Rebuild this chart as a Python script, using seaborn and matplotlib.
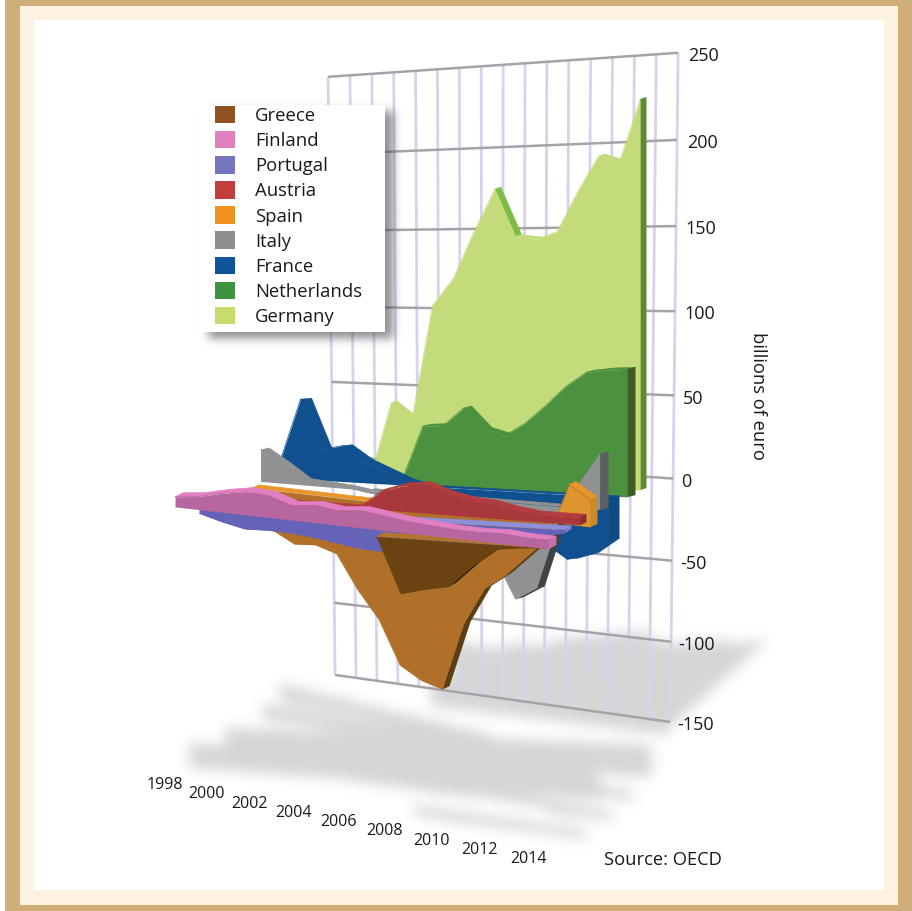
import numpy as np
import pandas as pd
import matplotlib
matplotlib.use("Agg")
import matplotlib.pyplot as plt
import seaborn as sns
from matplotlib.backends.backend_agg import FigureCanvasAgg
from matplotlib.figure import Figure
from matplotlib.patches import Patch, Polygon, Rectangle
from matplotlib.transforms import Affine2D

nan = np.nan
years = np.arange(1998, 2015)
year_labels = [1998, 2000, 2002, 2004, 2006, 2008, 2010, 2012, 2014]
wall_ticks = [250, 200, 150, 100, 50, 0, -50, -100, -150]

germany = [nan, nan, nan, 0, 44, 35, 102, 118, 146, 171, 144, 143, 148, 172, 193, 190, 227]
netherlands = [nan, nan, nan, nan, nan, 3, 35, 36, 47, 35, 32, 40, 51, 63, 72, 74, 75]
france = [10, 47, 18, 21, 13, 8, 3, 0, -5, -10, -20, -25, -25, -30, -38, -34, -25]
italy = [20, 12, 3, 2, 1, -1, -3, -5, -10, -25, -45, -35, -60, -52, -10, 15, 35]
spain = [-10, -25, -32, -31, -35, -56, -73, -100, -108, -112, -70, -46, -36, -23, -10, 25, 17]
austria = [-3, -3, -2, -3, -2, -1, 0, 12, 17, 19, 14, 11, 10, 7, 5, 5, 5]
portugal = [-3, -8, -12, -12, -13, -15, -18, -21, -22, -22, -20, -22, -18, -14, -10, -5, -2]
finland = [7, 9, 13, 16, 15, 10, 12, 10, 12, 10, 8, 7, 6, 6, 7, 6, 6]
greece = [nan, nan, nan, nan, nan, nan, nan, nan, nan, 0, -37, -33, -30, -15, -3, -1, 0]

series = {
    "Germany": germany, "Netherlands": netherlands, "France": france,
    "Italy": italy, "Spain": spain, "Austria": austria,
    "Portugal": portugal, "Greece": greece, "Finland": finland,
}
legend_order = ["Greece", "Finland", "Portugal", "Austria", "Spain", "Italy",
                "France", "Netherlands", "Germany"]

# Each ribbon sits on its own sheared plane: x0, y0 at 1998, x1, y1 at 2014,
# pixels per billion, and the extrusion of the ribbon towards the back.
planes = {
    "Germany":     (308, 475, 640, 490, 1.72, 6, -2),
    "Netherlands": (300, 479, 627, 497, 1.70, 8, -2),
    "France":      (280, 478, 608, 497, 1.70, 11, -1),
    "Italy":       (261, 482, 600, 510, 1.60, 8, -2),
    "Spain":       (252, 488, 590, 527, 1.60, 7, -3),
    "Austria":     (225, 498, 580, 525, 1.50, 6, -3),
    "Portugal":    (199, 509, 565, 530, 1.45, 6, -4),
    "Finland":     (175, 507, 548, 549, 1.45, 8, -4),
    "Greece":      (160, 522, 545, 548, 1.50, 7, -4),
}
# Surface colours of a ribbon
paints = {
    "Germany":     dict(face="#C3DB7A", below="#C3DB7A", top="#C3DB7A", slope="#7CBD45", side="#7CBD45", cap="#5E8A35"),
    "Netherlands": dict(face="#4C9140", below="#4C9140", top="#4C9140", slope="#4C9140", side="#3F5C24", cap="#3F5C24"),
    "France":      dict(face="#11508F", below="#11508F", top="#11508F", slope="#11508F", side="#11508F", cap="#0E4A84"),
    "Italy":       dict(face="#8F9192", below="#8F9192", top="#8F9192", slope="#8F9192", side="#3F4344", cap="#5A5E60"),
    "Spain":       dict(face="#E0942F", below="#B0702A", top="#E8962C", slope="#E8962C", side="#5A3D12", cap="#C98A2C"),
    "Austria":     dict(face="#A9383C", below="#A9383C", top="#B53C3E", slope="#B53C3E", side="#8E2A30", cap="#8E2A30"),
    "Portugal":    dict(face="#6563B8", below="#6563B8", top="#8D8FD8", slope="#8D8FD8", side="#5452A0", cap="#7F7FCC"),
    "Finland":     dict(face="#B8669F", below="#B8669F", top="#E27EC2", slope="#E27EC2", side="#C870AC", cap="#C870AC"),
    "Greece":      dict(face="#6B4310", below="#6B4310", top="#B3752D", slope="#B3752D", side="#1B140A", cap="#B3752D"),
}
swatches = {
    "Greece": "#8E5223", "Finland": "#E07FBE", "Portugal": "#7676C0",
    "Austria": "#C23E3C", "Spain": "#F2921E", "Italy": "#8C8E90",
    "France": "#0F5597", "Netherlands": "#3F933F", "Germany": "#C6DC6C",
}
# Floor strips under the ribbons: x0, y0, x1, y1, shear per billion, base width
floor_strips = {
    "Germany":     (450, 680, 672, 725, 0.42, -0.20, -40),
    "Netherlands": (430, 706, 668, 735, 0.10, -0.28, -30),
    "France":      (279, 684, 490, 735, 0.10, 0.10, 14),
    "Italy":       (262, 704, 530, 750, 0.10, 0.12, 14),
    "Spain":       (225, 728, 650, 745, 0.10, 0.30, 26),
    "Austria":     (189, 743, 600, 775, 0.10, 0.25, 24),
    "Portugal":    (475, 762, 632, 792, 0.00, 0.10, 9),
    "Greece":      (450, 782, 612, 812, 0.00, 0.10, 9),
    "Finland":     (413, 805, 586, 830, 0.00, 0.20, 8),
}

sns.set_theme(style="white")
plt.rcParams["font.family"] = ["Open Sans", "Noto Sans", "DejaVu Sans"]

W, H = 912, 911
FIGSIZE = ((W + 0.2) / 100, (H + 0.2) / 100)
fig = plt.figure(figsize=FIGSIZE, dpi=100, facecolor="white")
ax = fig.add_axes([0, 0, 1, 1])
ax.set_xlim(0, W)
ax.set_ylim(H, 0)
ax.set_autoscale_on(False)
ax.axis("off")


def plane_transform(name):
    x0, y0, x1, y1, k, _, _ = planes[name]
    span = years[-1] - years[0]
    sx, sy = (x1 - x0) / span, (y1 - y0) / span
    return Affine2D.from_values(sx, sy, 0, -k, x0 - sx * years[0], y0 - sy * years[0])


def soft_layer(painter, sigma, rgb, alpha, zorder):
    """Paint shapes off screen, blur their coverage and lay it over the axes."""
    off = Figure(figsize=FIGSIZE, dpi=100, facecolor="white")
    canvas = FigureCanvasAgg(off)
    oax = off.add_axes([0, 0, 1, 1])
    oax.set_xlim(0, W)
    oax.set_ylim(H, 0)
    oax.axis("off")
    painter(oax)
    canvas.draw()
    mask = 1 - np.asarray(canvas.buffer_rgba())[..., 0] / 255.0
    radius = int(3 * sigma)
    kernel = np.exp(-0.5 * (np.arange(-radius, radius + 1) / sigma) ** 2)
    kernel /= kernel.sum()
    mask = np.apply_along_axis(lambda r: np.convolve(r, kernel, "same"), 0, mask)
    mask = np.apply_along_axis(lambda r: np.convolve(r, kernel, "same"), 1, mask)
    rgba = np.zeros(mask.shape + (4,))
    rgba[..., :3] = rgb
    rgba[..., 3] = np.clip(mask, 0, 1) * alpha
    ax.imshow(rgba, extent=(0, W, H, 0), zorder=zorder, aspect="auto", interpolation="bilinear")
    ax.set_xlim(0, W)
    ax.set_ylim(H, 0)


def paint_floor(oax):
    for name, (x0, y0, x1, y1, shx, shy, base) in floor_strips.items():
        vals = np.abs(np.nan_to_num(np.array(series[name], float)))
        t = (years - years[0]) / (years[-1] - years[0])
        bx, by = x0 + (x1 - x0) * t, y0 + (y1 - y0) * t
        tx, ty = bx + shx * vals, by + shy * vals + base
        oax.fill(np.r_[bx, tx[::-1]], np.r_[by, ty[::-1]], color="black", lw=0)


soft_layer(paint_floor, 6.5, (0.55, 0.55, 0.55), 0.36, 1)


def wall_point(year, value):
    s = (250 - value) / 400
    t = (year - years[0]) / (years[-1] - years[0])
    left = (328 + 7 * s, 77 + 598 * s + 24 * s * (1 - s))
    right = (678 - 8 * s, 53 + 669 * s + 32 * s * (1 - s))
    return left[0] + (right[0] - left[0]) * t, left[1] + (right[1] - left[1]) * t


for yr in years:
    a, b = wall_point(yr, 250), wall_point(yr, -150)
    ax.plot([a[0], b[0]], [a[1], b[1]], color="#D6D4EA", lw=2.0, zorder=2, solid_capstyle="butt")
for tick in wall_ticks:
    a, b = wall_point(years[0], tick), wall_point(years[-1], tick)
    ax.plot([a[0], b[0]], [a[1], b[1]], color="#A8A2A8", lw=1.8, zorder=3, solid_capstyle="butt")
    ax.text(677 + (tick + 150) * 0.0275, b[1] + 3, str(tick), fontsize=13, color="#1A1A1A",
            ha="left", va="center", zorder=20)


def draw_ribbon(name, zorder):
    values = np.array(series[name], float)
    keep = np.isfinite(values)
    yrs, vals = years[keep], values[keep]
    paint = paints[name]
    ex, ey = planes[name][5:7]
    tr = plane_transform(name)
    pts = tr.transform(np.column_stack([yrs, vals]))
    base = tr.transform(np.column_stack([yrs, np.zeros_like(vals)]))

    def sweep(p, q, colour):
        quad = np.array([p, q, q + (ex, ey), p + (ex, ey)])
        ax.add_patch(Polygon(quad, closed=True, facecolor=colour, edgecolor=colour, lw=0.4, zorder=zorder))

    for i in range(len(yrs) - 1):
        # outline segment: keep the surfaces that turn towards the viewer
        d = pts[i + 1] - pts[i]
        above = vals[i] + vals[i + 1] >= 0
        n = (1 if above else -1) * np.array([d[1], -d[0]])
        if n @ (ex, ey) > 0:
            if -n[1] > 0.55 * np.hypot(*n):
                colour = paint["top"]
            else:
                colour = paint["slope"] if above else paint["side"]
            sweep(pts[i], pts[i + 1], colour)
        if not above:
            sweep(base[i], base[i + 1], paint["top"])
    sweep(pts[-1], base[-1], paint["cap"])

    data_tr = tr + ax.transData
    ax.fill_between(yrs, vals, 0, where=vals >= 0, interpolate=True, color=paint["face"], lw=0,
                    transform=data_tr, zorder=zorder + 0.1)
    ax.fill_between(yrs, vals, 0, where=vals <= 0, interpolate=True, color=paint["below"], lw=0,
                    transform=data_tr, zorder=zorder + 0.1)
    frame = pd.DataFrame({"year": yrs, "value": vals})
    sns.lineplot(data=frame, x="year", y="value", ax=ax,
                 color=paint["face"] if vals.sum() >= 0 else paint["below"],
                 lw=0.5, estimator=None, transform=data_tr, zorder=zorder + 0.2, legend=False)


for z, name in enumerate(series):
    draw_ribbon(name, 5 + z)
ax.set_xlim(0, W)
ax.set_ylim(H, 0)
ax.axis("off")

# Legend card with its drop shadow
card = (200, 105, 185, 227)
soft_layer(lambda oax: oax.add_patch(Rectangle((card[0] + 8, card[1] + 7), card[2], card[3], color="black", lw=0)),
           4.5, (0.30, 0.30, 0.34), 0.62, 15)
ax.add_patch(Rectangle(card[:2], card[2], card[3], facecolor="white", edgecolor="none", zorder=16))
handles = [Patch(facecolor=swatches[n], edgecolor="none", label=n) for n in legend_order]
leg = ax.legend(handles=handles, loc="upper left", bbox_to_anchor=(215 / W, 1 - 106 / H),
                bbox_transform=fig.transFigure, frameon=False, fontsize=13.3, borderpad=0, borderaxespad=0,
                handlelength=1.08, handleheight=1.08, handletextpad=1.1, labelspacing=0.33,
                labelcolor="#1A1A1A")
leg.set_zorder(17)

# Year axis along the floor edge
for yr in year_labels:
    n = yr - 1998
    ax.text(165 + 20.5 * n + 0.14 * n ** 2, 785 + 4.62 * n, str(yr), fontsize=11.5, color="#1A1A1A",
            ha="center", va="center", zorder=20)
ax.text(758, 396, "billions of euro", rotation=-90, fontsize=13.2, color="#1A1A1A",
        ha="center", va="center", zorder=20)
ax.text(604, 860, "Source: OECD", fontsize=13.2, color="#1A1A1A", ha="left", va="center", zorder=20)

# Page frame: tan outer band, cream inner band
tan, cream = "#CFAE79", "#FDF1E1"
for x, y, w, h, c in [
    (5, 0, 907, 20, tan), (5, 905, 907, 6, tan), (5, 0, 15, 911, tan), (898, 0, 14, 911, tan),
    (20, 6, 878, 14, cream), (20, 890, 878, 15, cream), (20, 6, 14, 899, cream), (884, 6, 14, 899, cream),
]:
    ax.add_patch(Rectangle((x, y), w, h, facecolor=c, edgecolor="none", zorder=30))
ax.add_patch(Rectangle((5, 0), 907, 6, facecolor=tan, edgecolor="none", zorder=31))

fig.savefig("out.png", dpi=100)
